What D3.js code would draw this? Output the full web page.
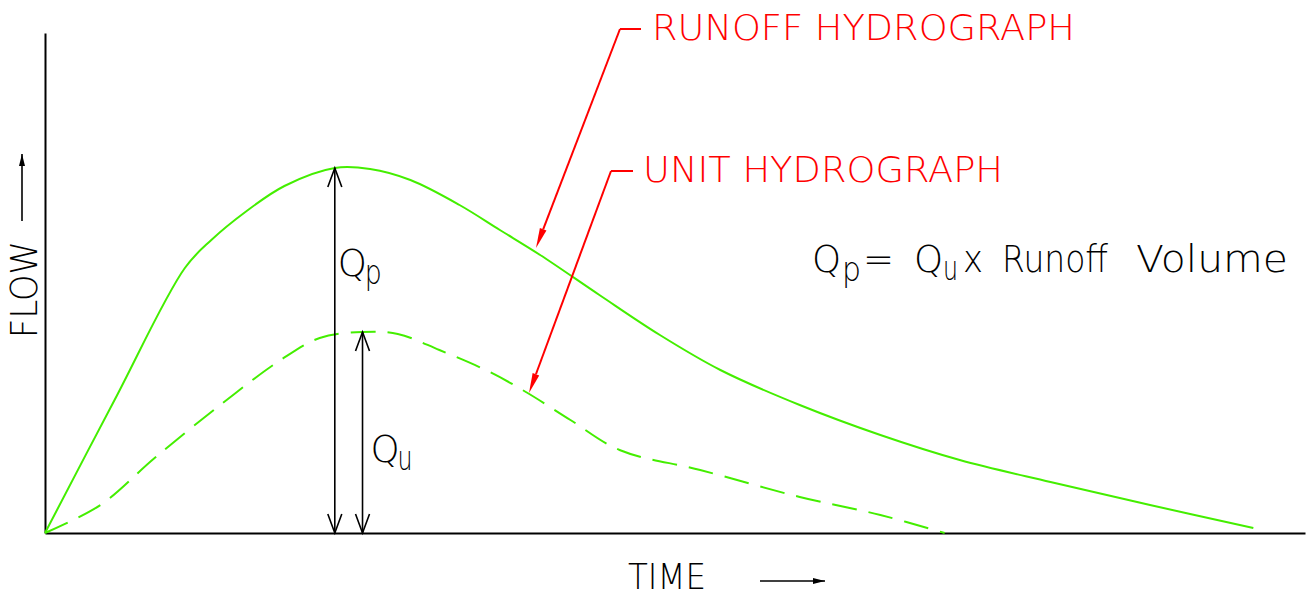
<!DOCTYPE html>
<html>
<head>
<meta charset="utf-8">
<script src="https://cdn.jsdelivr.net/npm/d3@7"></script>
<style>
  body { margin: 0; background: #fff; }
  svg  { display: block; font-family: "DejaVu Sans", sans-serif; font-weight: 200; }
</style>
</head>
<body>
<script>
// hydrograph values, time and flow in arbitrary units (0-100)
var runoffTime = [0, 5.5, 11.1, 13.2, 15.9, 19.0, 23.0, 25.8, 29.0, 32.9, 36.1, 39.3, 44.0, 48.8, 53.6, 59.9, 66.3, 72.6, 79.8, 87.7, 95.9];
var runoffFlow = [0, 26.5, 53, 58.6, 64.2, 69.4, 73, 72.8, 70.6, 65.6, 60.6, 55.6, 47.6, 39.6, 32.6, 25.6, 19.6, 14.6, 10.2, 5.6, 1.0];

var unitTime = [0, 4.4, 8.7, 13.9, 18.7, 21.8, 25.2, 28.0, 31.3, 35.3, 38.3, 41.7, 45.6, 52.0, 59.9, 66.3, 71.4];
var unitFlow = [0, 5.6, 15, 25.6, 34.6, 39, 40.2, 39.8, 36.6, 32.2, 28, 22.6, 16.6, 12.6, 7.2, 3.6, 0];

var labels = {
    runoff: "RUNOFF HYDROGRAPH",
    unit:   "UNIT HYDROGRAPH",
    xAxis:  "TIME",
    yAxis:  "FLOW"
};

var W = 1314, H = 598;
var green = "#44ee00", red = "#ff0000";

var svg = d3.select("body").append("svg")
    .attr("width", W).attr("height", H);

var x = d3.scaleLinear().domain([0, 100]).range([45, 1305]);
var y = d3.scaleLinear().domain([0, 100]).range([533, 33]);

// axes (no ticks, just the lines)
svg.append("g")
   .attr("transform", "translate(0," + y(0) + ")")
   .call(d3.axisBottom(x).ticks(0).tickSizeOuter(0))
   .select(".domain").attr("stroke-width", 2);
svg.append("g")
   .attr("transform", "translate(" + x(0) + ",0)")
   .call(d3.axisLeft(y).ticks(0).tickSizeOuter(0))
   .select(".domain").attr("stroke-width", 2);

var line = d3.line()
    .x((d) => x(d[0]))
    .y((d) => y(d[1]))
    .curve(d3.curveCatmullRom.alpha(0.5));

var runoff = d3.zip(runoffTime, runoffFlow);
var unit   = d3.zip(unitTime, unitFlow);

svg.append("path")
   .attr("d", line(runoff))
   .attr("fill", "none").attr("stroke", green).attr("stroke-width", 2);

svg.append("path")
   .attr("d", line(unit))
   .attr("fill", "none").attr("stroke", green).attr("stroke-width", 2)
   .attr("stroke-dasharray", "25,12");

// double headed peak arrows
var openHead = (g, px, py, dir) => {
    g.append("path")
     .attr("d", `M${px - 7},${py + dir * 19}L${px},${py}L${px + 7},${py + dir * 19}`)
     .attr("fill", "none").attr("stroke", "#000").attr("stroke-width", 1.6);
};

var peakArrow = (data, name, sub, dx, labelFlow, subLen) => {
    var peak = data[d3.maxIndex(data, (d) => d[1])];
    var px = x(peak[0]), top = y(peak[1]), bot = y(0);
    var g = svg.append("g");
    g.append("line")
     .attr("x1", px).attr("x2", px).attr("y1", top).attr("y2", bot)
     .attr("stroke", "#000").attr("stroke-width", 1.6);
    openHead(g, px, top, 1);
    openHead(g, px, bot, -1);
    var ly = y(labelFlow);
    g.append("text")
     .attr("x", px + dx).attr("y", ly)
     .attr("font-size", 37).text(name);
    g.append("text")
     .attr("x", px + dx + 27).attr("y", ly + 8)
     .attr("font-size", 33)
     .attr("textLength", subLen).attr("lengthAdjust", "spacingAndGlyphs")
     .text(sub);
};

peakArrow(runoff, "Q", "p", 3, 51.5, 17);
peakArrow(unit, "Q", "u", 8, 14.2, 15);

// red leaders with filled heads
var leader = (x0, y0, len, tipX, tipY, text, tx, tl) => {
    var g = svg.append("g");
    g.append("line")
     .attr("x1", x0).attr("y1", y0).attr("x2", x0 + len).attr("y2", y0)
     .attr("stroke", red).attr("stroke-width", 2);
    var ang = Math.atan2(tipY - y0, tipX - x0);
    var hl = 20, hw = 3.5;
    var bx = tipX - hl * Math.cos(ang), by = tipY - hl * Math.sin(ang);
    g.append("line")
     .attr("x1", x0).attr("y1", y0).attr("x2", bx).attr("y2", by)
     .attr("stroke", red).attr("stroke-width", 2);
    var nx = -Math.sin(ang) * hw, ny = Math.cos(ang) * hw;
    g.append("path")
     .attr("d", `M${tipX},${tipY}L${bx + nx},${by + ny}L${bx - nx},${by - ny}Z`)
     .attr("fill", red);
    g.append("text")
     .attr("x", tx).attr("y", y0 + 11)
     .attr("font-size", 36).attr("fill", red)
     .attr("textLength", tl).attr("lengthAdjust", "spacingAndGlyphs")
     .text(text);
};

leader(620, 29, 21, 536, 248, labels.runoff, 652, 423);
leader(611, 171, 22, 529, 393, labels.unit, 643, 360);

// formula
var f = svg.append("g").attr("font-size", 37);
var piece = (px, py, s, len, size) => {
    var t = f.append("text").attr("x", px).attr("y", py).text(s);
    if (len) t.attr("textLength", len).attr("lengthAdjust", "spacingAndGlyphs");
    if (size) t.attr("font-size", size);
};
piece(812, 272, "Q");
piece(842, 281, "p", 19, 33);
piece(863, 272, "=");
piece(914, 272, "Q");
piece(943, 280, "u", 15, 33);
piece(963, 272, "x", 20);
piece(1002, 272, "Runoff", 106);
piece(1136, 272, "Volume", 152);

// axis titles
svg.append("text")
   .attr("x", 628).attr("y", 589)
   .attr("font-size", 36)
   .attr("textLength", 78).attr("lengthAdjust", "spacingAndGlyphs")
   .text(labels.xAxis);
svg.append("text")
   .attr("transform", "translate(37,338) rotate(-90)")
   .attr("font-size", 38)
   .attr("textLength", 97).attr("lengthAdjust", "spacingAndGlyphs")
   .text(labels.yAxis);

var smallArrow = (x1, y1, x2, y2) => {
    svg.append("line")
       .attr("x1", x1).attr("y1", y1).attr("x2", x2).attr("y2", y2)
       .attr("stroke", "#000").attr("stroke-width", 1.6);
    var ang = Math.atan2(y2 - y1, x2 - x1), hl = 12, hw = 3;
    var bx = x2 - hl * Math.cos(ang), by = y2 - hl * Math.sin(ang);
    var nx = -Math.sin(ang) * hw, ny = Math.cos(ang) * hw;
    svg.append("path")
       .attr("d", `M${x2},${y2}L${bx + nx},${by + ny}L${bx - nx},${by - ny}Z`)
       .attr("fill", "#000");
};
smallArrow(760, 581, 825, 581);
smallArrow(22, 221, 22, 154);
</script>
</body>
</html>
